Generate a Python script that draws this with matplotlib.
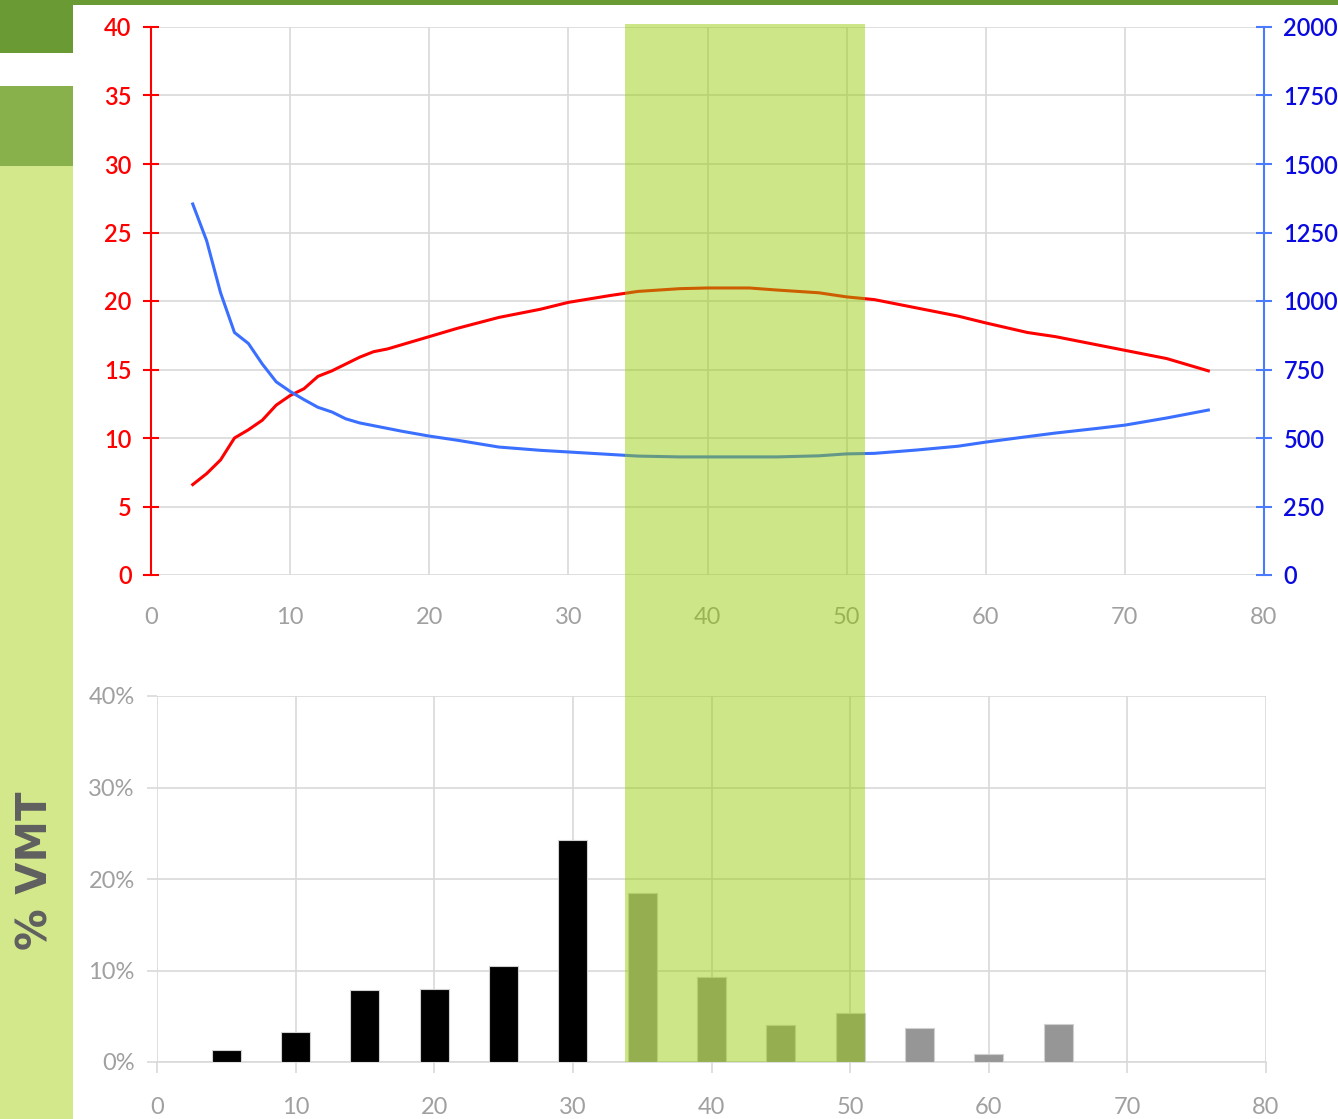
import matplotlib
matplotlib.use("Agg")
import matplotlib.pyplot as plt
from matplotlib.patches import Rectangle

plt.rcParams["font.family"] = ["Lato", "DejaVu Sans"]

# ---------------------------
# Data
# ---------------------------
speed = [3, 4, 5, 6, 7, 8, 9, 10, 11, 12, 13, 14, 15, 16, 17, 18, 20, 22, 25,
         28, 30, 33, 35, 38, 40, 43, 45, 48, 50, 52, 55, 58, 60, 63, 65, 68,
         70, 73, 76]
red_val = [6.6, 7.4, 8.4, 10.0, 10.6, 11.3, 12.4, 13.1, 13.6, 14.5, 14.9,
           15.4, 15.9, 16.3, 16.5, 16.8, 17.4, 18.0, 18.8, 19.4, 19.9, 20.4,
           20.7, 20.9, 20.95, 20.95, 20.8, 20.6, 20.3, 20.1, 19.5, 18.9, 18.4,
           17.7, 17.4, 16.8, 16.4, 15.8, 14.9]
blue_val = [1354, 1220, 1030, 885, 845, 770, 705, 670, 640, 612, 595, 570,
            555, 545, 535, 525, 507, 492, 467, 455, 449, 440, 434, 431, 431,
            431, 431, 435, 442, 444, 456, 470, 485, 505, 518, 535, 547, 573,
            602]

bar_x = [5, 10, 15, 20, 25, 30, 35, 40, 45, 50, 55, 60, 65]
bar_pct = [1.3, 3.3, 7.9, 8.0, 10.5, 24.3, 18.5, 9.3, 4.0, 5.4, 3.7, 0.9, 4.2]
bar_colors = ["black"] * 6 + ["#969696"] * 7

band = (34.1, 51.3)  # highlighted speed range

left_ticks = [0, 5, 10, 15, 20, 25, 30, 35, 40]
right_ticks = [0, 250, 500, 750, 1000, 1250, 1500, 1750, 2000]
x_ticks = [0, 10, 20, 30, 40, 50, 60, 70, 80]
pct_ticks = [0, 10, 20, 30, 40]

grid_c = "#d9d9d9"
label_c = "#a0a0a0"

fig = plt.figure(figsize=(13.38, 11.19), dpi=100)

# ---------------------------
# Side bar decoration
# ---------------------------
W, H = 1338, 1119
def frect(x0, y0, x1, y1, color, **kw):
    fig.patches.append(Rectangle((x0 / W, 1 - y1 / H), (x1 - x0) / W, (y1 - y0) / H,
                                 transform=fig.transFigure, color=color, lw=0, **kw))

frect(0, 0, 1338, 5, "#6a9a34")
frect(0, 0, 73, 53, "#6a9a34")
frect(0, 86, 73, 166, "#88b04b")
frect(0, 166, 73, 1119, "#d2e88a")
fig.text(35 / W, 1 - 871 / H, "% VMT", rotation=90, ha="center", va="center",
         fontsize=30, fontweight="bold", color="#5f5f5f", family="DejaVu Sans")

# ---------------------------
# Top chart: two curves
# ---------------------------
ax1 = fig.add_axes([151 / W, 1 - 575 / H, (1264 - 151) / W, (575 - 27) / H])
ax1.plot(speed, red_val, color="#ff0000", lw=2.2, zorder=3)
ax1.set_xlim(0, 80)
ax1.set_ylim(0, 40)
ax1.set_xticks(x_ticks)
ax1.set_yticks(left_ticks)
ax1.grid(True, color=grid_c, lw=1.2)
ax1.set_axisbelow(True)
for s in ["top", "bottom", "right"]:
    ax1.spines[s].set_visible(False)
ax1.spines["left"].set_color("#ff0000")
ax1.spines["left"].set_linewidth(1.5)
ax1.tick_params(axis="y", colors="#ff0000", direction="inout", length=12,
                width=1.5, pad=8, labelsize=17)
ax1.tick_params(axis="x", length=0, pad=23, labelsize=17, labelcolor=label_c)
for t in ax1.get_yticklabels():
    t.set_fontweight("semibold")

ax2 = ax1.twinx()
ax2.plot(speed, blue_val, color="#3a6fff", lw=2.2, zorder=3)
ax2.set_ylim(0, 2000)
ax2.set_yticks(right_ticks)
for s in ["top", "bottom", "left"]:
    ax2.spines[s].set_visible(False)
ax2.spines["right"].set_color("#4a7bff")
ax2.spines["right"].set_linewidth(1.5)
ax2.tick_params(axis="y", color="#4a7bff", labelcolor="#0a0ae0", direction="inout",
                length=12, width=1.5, pad=8, labelsize=17)
for t in ax2.get_yticklabels():
    t.set_fontweight("semibold")

# ---------------------------
# Bottom chart: VMT share by speed
# ---------------------------
ax3 = fig.add_axes([157 / W, 1 - 1062 / H, (1266 - 157) / W, (1062 - 696) / H])
ax3.bar(bar_x, bar_pct, width=2.1, color=bar_colors, edgecolor="#d0d0d0",
        lw=0.8, zorder=3)
ax3.set_xlim(0, 80)
ax3.set_ylim(0, 40)
ax3.set_xticks(x_ticks)
ax3.set_yticks(pct_ticks)
ax3.set_yticklabels([f"{t}%" for t in pct_ticks])
ax3.grid(True, color=grid_c, lw=1.2)
ax3.set_axisbelow(True)
for s in ["top", "right", "left"]:
    ax3.spines[s].set_visible(False)
ax3.spines["bottom"].set_color(grid_c)
ax3.spines["bottom"].set_linewidth(1.2)
ax3.tick_params(axis="x", color=grid_c, length=8, width=1.2, pad=17,
                labelsize=17, labelcolor=label_c)
ax3.tick_params(axis="y", color=grid_c, length=7, width=1.2, pad=9,
                labelsize=17, labelcolor=label_c)

# ---------------------------
# Highlight band over both charts
# ---------------------------
x0 = fig.transFigure.inverted().transform(ax1.transData.transform((band[0], 0)))[0]
x1 = fig.transFigure.inverted().transform(ax1.transData.transform((band[1], 0)))[0]
fig.patches.append(Rectangle((x0, 1 - 1062 / H), x1 - x0, (1062 - 24) / H,
                             transform=fig.transFigure, facecolor=(149 / 255, 202 / 255, 0),
                             alpha=0.47, lw=0, zorder=10))

fig.savefig("out.png", dpi=100)
